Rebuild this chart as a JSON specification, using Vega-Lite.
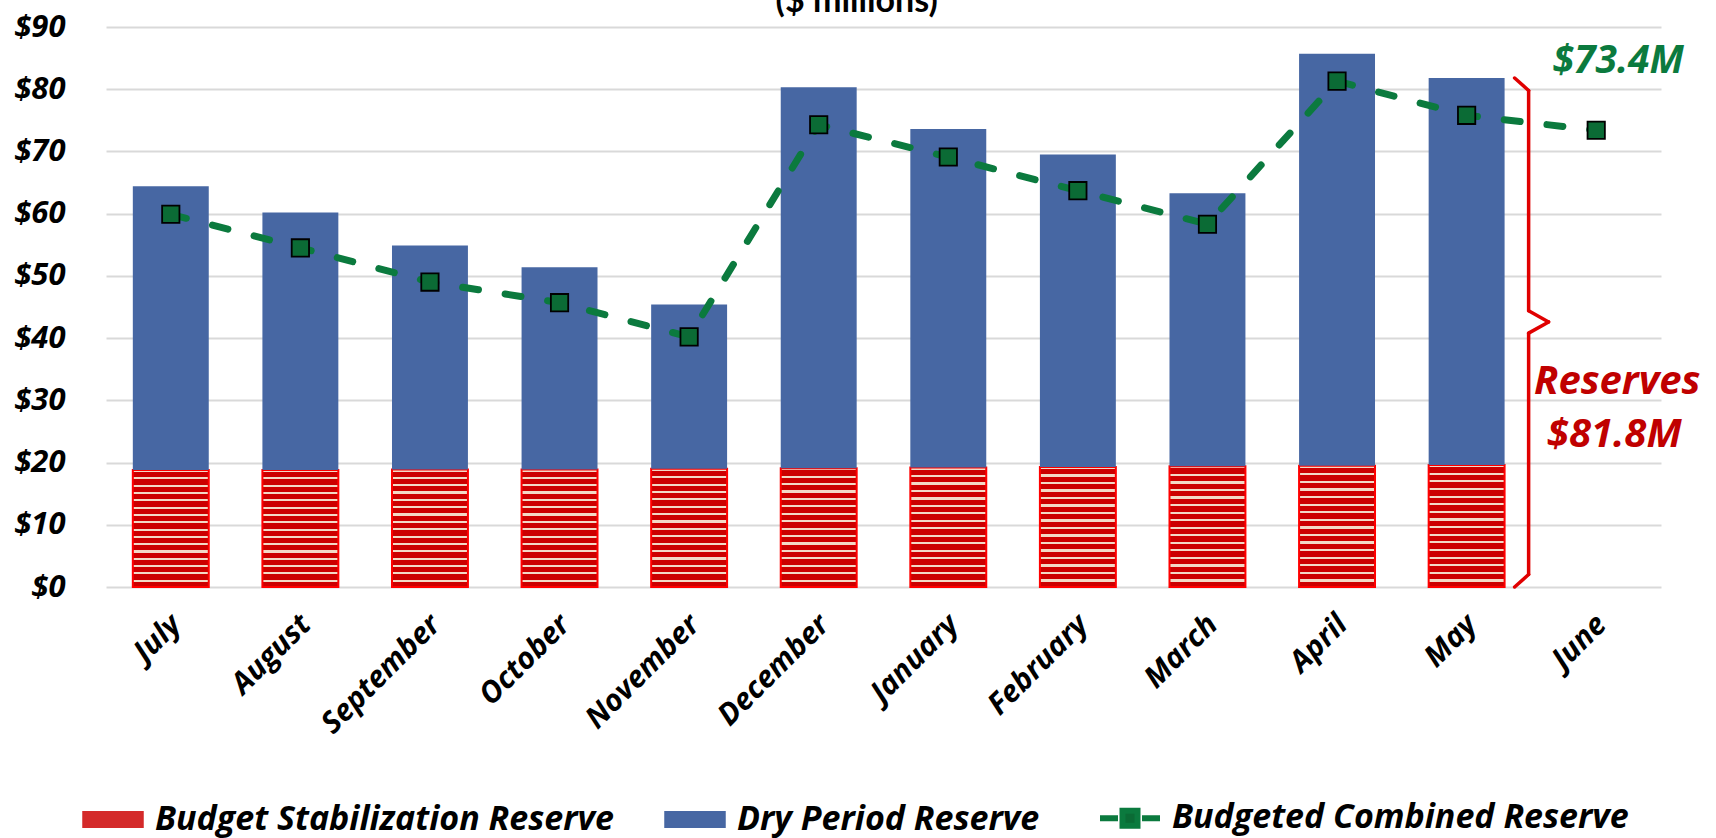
{
  "$schema": "https://vega.github.io/schema/vega-lite/v6.json",
  "width": 1555,
  "height": 560,
  "autosize": {"type": "none"},
  "padding": {"left": 106, "top": 27, "right": 55, "bottom": 251},
  "background": "white",
  "config": {
    "view": {"stroke": null},
    "font": "Open Sans",
    "axisY": {"labelFont": "Open Sans", "labelFontSize": 31, "labelFontWeight": "bold", "labelFontStyle": "italic", "labelColor": "#000000", "labelPadding": 41, "domain": false, "ticks": false, "gridColor": "#d9d9d9", "gridWidth": 2},
    "axisX": {"labelFont": "Open Sans", "labelAngle": -45, "labelAlign": "right", "labelBaseline": "top", "labelFontSize": 30, "labelFontWeight": "bold", "labelFontStyle": "italic", "labelColor": "#000000", "labelPadding": 22, "labelOffset": -5, "domain": false, "ticks": false, "grid": false}
  },
  "data": {"values": [
    {"month": "July", "bsr": 18.8, "total": 64.4, "combined": 59.9},
    {"month": "August", "bsr": 18.8, "total": 60.2, "combined": 54.5},
    {"month": "September", "bsr": 18.9, "total": 54.9, "combined": 49.0},
    {"month": "October", "bsr": 18.9, "total": 51.4, "combined": 45.7},
    {"month": "November", "bsr": 19.0, "total": 45.4, "combined": 40.2},
    {"month": "December", "bsr": 19.1, "total": 80.3, "combined": 74.3},
    {"month": "January", "bsr": 19.2, "total": 73.6, "combined": 69.1},
    {"month": "February", "bsr": 19.3, "total": 69.5, "combined": 63.7},
    {"month": "March", "bsr": 19.4, "total": 63.3, "combined": 58.3},
    {"month": "April", "bsr": 19.5, "total": 85.7, "combined": 81.3},
    {"month": "May", "bsr": 19.6, "total": 81.8, "combined": 75.8},
    {"month": "June", "bsr": null, "total": null, "combined": 73.4}
  ]},
  "encoding": {
    "x": {"field": "month", "type": "nominal", "title": null,
      "scale": {"domain": ["July","August","September","October","November","December","January","February","March","April","May","June"], "paddingInner": 0.414, "paddingOuter": 0.207}}
  },
  "layer": [
    {
      "mark": {"type": "bar", "stroke": "#ff0000", "strokeWidth": 2,
        "fill": {"gradient": "linear", "x1": 0, "y1": 0, "x2": 0, "y2": 1, "stops": [
          {"offset": 0.0, "color": "#f3d9c6"}, {"offset": 0.018, "color": "#f3d9c6"}, {"offset": 0.018, "color": "#cc0000"}, {"offset": 0.0625, "color": "#cc0000"},
          {"offset": 0.0625, "color": "#f3d9c6"}, {"offset": 0.0805, "color": "#f3d9c6"}, {"offset": 0.0805, "color": "#cc0000"}, {"offset": 0.125, "color": "#cc0000"},
          {"offset": 0.125, "color": "#f3d9c6"}, {"offset": 0.143, "color": "#f3d9c6"}, {"offset": 0.143, "color": "#cc0000"}, {"offset": 0.1875, "color": "#cc0000"},
          {"offset": 0.1875, "color": "#f3d9c6"}, {"offset": 0.2055, "color": "#f3d9c6"}, {"offset": 0.2055, "color": "#cc0000"}, {"offset": 0.25, "color": "#cc0000"},
          {"offset": 0.25, "color": "#f3d9c6"}, {"offset": 0.268, "color": "#f3d9c6"}, {"offset": 0.268, "color": "#cc0000"}, {"offset": 0.3125, "color": "#cc0000"},
          {"offset": 0.3125, "color": "#f3d9c6"}, {"offset": 0.3305, "color": "#f3d9c6"}, {"offset": 0.3305, "color": "#cc0000"}, {"offset": 0.375, "color": "#cc0000"},
          {"offset": 0.375, "color": "#f3d9c6"}, {"offset": 0.393, "color": "#f3d9c6"}, {"offset": 0.393, "color": "#cc0000"}, {"offset": 0.4375, "color": "#cc0000"},
          {"offset": 0.4375, "color": "#f3d9c6"}, {"offset": 0.4555, "color": "#f3d9c6"}, {"offset": 0.4555, "color": "#cc0000"}, {"offset": 0.5, "color": "#cc0000"},
          {"offset": 0.5, "color": "#f3d9c6"}, {"offset": 0.518, "color": "#f3d9c6"}, {"offset": 0.518, "color": "#cc0000"}, {"offset": 0.5625, "color": "#cc0000"},
          {"offset": 0.5625, "color": "#f3d9c6"}, {"offset": 0.5805, "color": "#f3d9c6"}, {"offset": 0.5805, "color": "#cc0000"}, {"offset": 0.625, "color": "#cc0000"},
          {"offset": 0.625, "color": "#f3d9c6"}, {"offset": 0.643, "color": "#f3d9c6"}, {"offset": 0.643, "color": "#cc0000"}, {"offset": 0.6875, "color": "#cc0000"},
          {"offset": 0.6875, "color": "#f3d9c6"}, {"offset": 0.7055, "color": "#f3d9c6"}, {"offset": 0.7055, "color": "#cc0000"}, {"offset": 0.75, "color": "#cc0000"},
          {"offset": 0.75, "color": "#f3d9c6"}, {"offset": 0.768, "color": "#f3d9c6"}, {"offset": 0.768, "color": "#cc0000"}, {"offset": 0.8125, "color": "#cc0000"},
          {"offset": 0.8125, "color": "#f3d9c6"}, {"offset": 0.8305, "color": "#f3d9c6"}, {"offset": 0.8305, "color": "#cc0000"}, {"offset": 0.875, "color": "#cc0000"},
          {"offset": 0.875, "color": "#f3d9c6"}, {"offset": 0.893, "color": "#f3d9c6"}, {"offset": 0.893, "color": "#cc0000"}, {"offset": 0.9375, "color": "#cc0000"},
          {"offset": 0.9375, "color": "#f3d9c6"}, {"offset": 0.9555, "color": "#f3d9c6"}, {"offset": 0.9555, "color": "#cc0000"}, {"offset": 1.0, "color": "#cc0000"}
        ]}},
      "encoding": {
        "y": {"field": "bsr", "type": "quantitative", "title": null, "scale": {"domain": [0, 90]},
          "axis": {"values": [0,10,20,30,40,50,60,70,80,90], "labelExpr": "'$' + datum.value", "grid": true}}
      }
    },
    {
      "mark": {"type": "bar", "fill": "#4767a3"},
      "encoding": {
        "y": {"field": "bsr", "type": "quantitative", "title": null},
        "y2": {"field": "total"}
      }
    },
    {
      "mark": {"type": "line", "strokeWidth": 7, "strokeDash": [16, 27], "strokeCap": "round"},
      "encoding": {
        "y": {"field": "combined", "type": "quantitative", "title": null},
        "color": {"datum": "Budgeted Combined Reserve", "type": "nominal",
          "scale": {"domain": ["Budget Stabilization Reserve", "Dry Period Reserve", "Budgeted Combined Reserve"], "range": ["#d42a2a", "#4767a3", "#0b7a3e"]},
          "legend": {"title": null, "orient": "none", "legendX": -10, "legendY": 774, "direction": "horizontal",
            "labelFont": "Open Sans", "labelFontSize": 34, "labelFontWeight": "bold", "labelFontStyle": "italic", "labelColor": "#000000", "labelLimit": 0,
            "symbolSize": 3600, "symbolType": "M-1,-0.26H1V0.26H-1Z", "columnPadding": 48, "labelOffset": 25,
            "encode": {"symbols": {"update": {
              "shape": {"signal": "datum.value == 'Budgeted Combined Reserve' ? 'M-1,0H-0.4M0.4,0H1M-0.25,-0.25H0.25V0.25H-0.25Z' : 'M-1,-0.26H1V0.26H-1Z'"},
              "fill": {"signal": "datum.value == 'Budget Stabilization Reserve' ? '#d42a2a' : datum.value == 'Dry Period Reserve' ? '#4767a3' : '#0b6b35'"},
              "stroke": {"signal": "datum.value == 'Budget Stabilization Reserve' ? '#ff0000' : datum.value == 'Dry Period Reserve' ? '#4767a3' : '#0b7a3e'"},
              "strokeWidth": {"signal": "datum.value == 'Budgeted Combined Reserve' ? 6 : 1.5"},
              "opacity": {"value": 1}, "fillOpacity": {"value": 1}, "strokeDash": {"value": []}
            }}}}
        }
      }
    },
    {
      "mark": {"type": "point", "shape": "square", "filled": true, "size": 300, "fill": "#0b6b35", "stroke": "#000000", "strokeWidth": 1.8, "opacity": 1},
      "encoding": {
        "y": {"field": "combined", "type": "quantitative", "title": null}
      }
    },
    {
      "data": {"values": [{}]},
      "mark": {"type": "text", "text": "($ millions)", "font": "Lato", "fontSize": 34, "fontWeight": "bold", "fill": "#000000", "align": "center", "baseline": "alphabetic", "dx": 38},
      "encoding": {"x": {"datum": "December"}, "y": {"datum": 92.4}}
    },
    {
      "data": {"values": [{}]},
      "mark": {"type": "text", "text": "$73.4M", "font": "Open Sans", "fontSize": 39, "fontWeight": "bold", "fontStyle": "italic", "fill": "#0b7a3e", "align": "center", "baseline": "middle", "dx": 22},
      "encoding": {"x": {"datum": "June"}, "y": {"datum": 84.6}}
    },
    {
      "data": {"values": [{}]},
      "mark": {"type": "text", "text": "Reserves", "font": "Open Sans", "fontSize": 40, "fontWeight": "bold", "fontStyle": "italic", "fill": "#c00000", "align": "center", "baseline": "middle", "dx": 21},
      "encoding": {"x": {"datum": "June"}, "y": {"datum": 32.9}}
    },
    {
      "data": {"values": [{}]},
      "mark": {"type": "text", "text": "$81.8M", "font": "Open Sans", "fontSize": 40, "fontWeight": "bold", "fontStyle": "italic", "fill": "#c00000", "align": "center", "baseline": "middle", "dx": 18},
      "encoding": {"x": {"datum": "June"}, "y": {"datum": 24.4}}
    },
    {
      "data": {"values": [{}]},
      "mark": {"type": "rule", "color": "#e00000", "strokeWidth": 3.5, "strokeCap": "round", "xOffset": 48, "x2Offset": 62},
      "encoding": {"x": {"datum": "May"}, "x2": {"datum": "May"}, "y": {"datum": 81.8}, "y2": {"datum": 79.8}}
    },
    {
      "data": {"values": [{}]},
      "mark": {"type": "rule", "color": "#e00000", "strokeWidth": 3.5, "strokeCap": "round", "xOffset": 62, "x2Offset": 62},
      "encoding": {"x": {"datum": "May"}, "x2": {"datum": "May"}, "y": {"datum": 79.8}, "y2": {"datum": 44.4}}
    },
    {
      "data": {"values": [{}]},
      "mark": {"type": "rule", "color": "#e00000", "strokeWidth": 3.5, "strokeCap": "round", "xOffset": 62, "x2Offset": 82},
      "encoding": {"x": {"datum": "May"}, "x2": {"datum": "May"}, "y": {"datum": 44.4}, "y2": {"datum": 42.6}}
    },
    {
      "data": {"values": [{}]},
      "mark": {"type": "rule", "color": "#e00000", "strokeWidth": 3.5, "strokeCap": "round", "xOffset": 82, "x2Offset": 62},
      "encoding": {"x": {"datum": "May"}, "x2": {"datum": "May"}, "y": {"datum": 42.6}, "y2": {"datum": 40.8}}
    },
    {
      "data": {"values": [{}]},
      "mark": {"type": "rule", "color": "#e00000", "strokeWidth": 3.5, "strokeCap": "round", "xOffset": 62, "x2Offset": 62},
      "encoding": {"x": {"datum": "May"}, "x2": {"datum": "May"}, "y": {"datum": 40.8}, "y2": {"datum": 2.0}}
    },
    {
      "data": {"values": [{}]},
      "mark": {"type": "rule", "color": "#e00000", "strokeWidth": 3.5, "strokeCap": "round", "xOffset": 62, "x2Offset": 48},
      "encoding": {"x": {"datum": "May"}, "x2": {"datum": "May"}, "y": {"datum": 2.0}, "y2": {"datum": 0}}
    }
  ]
}
